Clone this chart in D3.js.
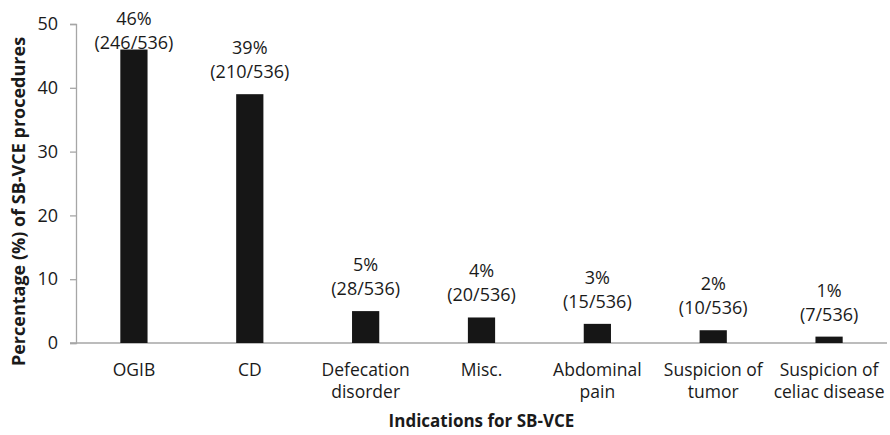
<!DOCTYPE html>
<html>
<head>
<meta charset="utf-8">
<script src="https://cdn.jsdelivr.net/npm/d3@7"></script>
<style>
  body { margin: 0; background: #fff; }
  text { font-family: "Open Sans", "Liberation Sans", sans-serif; fill: #1a1a1a; }
</style>
</head>
<body>
<div id="chart"></div>
<script>
// data
const categories = ["OGIB", "CD", "Defecation disorder", "Misc.", "Abdominal pain", "Suspicion of tumor", "Suspicion of celiac disease"];
const catLines = [["OGIB"], ["CD"], ["Defecation", "disorder"], ["Misc."], ["Abdominal", "pain"], ["Suspicion of", "tumor"], ["Suspicion of", "celiac disease"]];
const percents = [46, 39, 5, 4, 3, 2, 1];
const counts = [246, 210, 28, 20, 15, 10, 7];
const total = 536;
const yTicks = [0, 10, 20, 30, 40, 50];

const FRAME_WIDTH = 890;
const FRAME_HEIGHT = 435;
const MARGINS = {left: 76, right: 3, top: 24, bottom: 92};
const VIS_WIDTH = FRAME_WIDTH - MARGINS.left - MARGINS.right;
const VIS_HEIGHT = FRAME_HEIGHT - MARGINS.top - MARGINS.bottom;

const xScale = d3.scaleBand()
                 .domain(categories)
                 .range([0, VIS_WIDTH])
                 .paddingInner(0.765)
                 .paddingOuter(0.3825);

const yScale = d3.scaleLinear()
                 .domain([0, 50])
                 .range([VIS_HEIGHT, 0]);

const svg = d3.select("#chart")
              .append("svg")
                .attr("width", FRAME_WIDTH)
                .attr("height", FRAME_HEIGHT);

const g = svg.append("g")
             .attr("transform", "translate(" + MARGINS.left + "," + MARGINS.top + ")");

// y axis
const yAxis = g.append("g")
               .call(d3.axisLeft(yScale).tickValues(yTicks).tickSize(6).tickPadding(12));
yAxis.selectAll("path, line").attr("stroke", "#a6a6a6").attr("stroke-width", 1.3);
yAxis.selectAll("text").attr("font-size", "18px").attr("fill", "#1a1a1a")
     .style("font-family", "'Open Sans', sans-serif");

// x axis line
g.append("line")
  .attr("x1", -6).attr("x2", VIS_WIDTH)
  .attr("y1", yScale(0)).attr("y2", yScale(0))
  .attr("stroke", "#a6a6a6").attr("stroke-width", 1.3);

// bars
g.selectAll(".bar")
  .data(categories)
  .enter().append("rect")
    .attr("class", "bar")
    .attr("x", (d) => xScale(d))
    .attr("width", xScale.bandwidth())
    .attr("y", (d, i) => yScale(percents[i]))
    .attr("height", (d, i) => yScale(0) - yScale(percents[i]))
    .attr("fill", "#161616");

// value labels
const labels = g.selectAll(".vlabel")
  .data(categories)
  .enter().append("text")
    .attr("class", "vlabel")
    .attr("text-anchor", "middle")
    .attr("font-size", "18px")
    .attr("transform", (d, i) => {
      const top = yScale(percents[i]);
      const y1 = Math.max(top - 40, 1);
      return "translate(" + (xScale(d) + xScale.bandwidth() / 2) + "," + y1 + ")";
    });
labels.append("tspan").attr("x", 0).attr("y", 0).text((d, i) => percents[i] + "%");
labels.append("tspan").attr("x", 0).attr("y", 24).text((d, i) => "(" + counts[i] + "/" + total + ")");

// category labels
const cats = g.selectAll(".clabel")
  .data(categories)
  .enter().append("text")
    .attr("class", "clabel")
    .attr("text-anchor", "middle")
    .attr("font-size", "17.5px")
    .attr("transform", (d) => "translate(" + (xScale(d) + xScale.bandwidth() / 2) + "," + (VIS_HEIGHT + 33) + ")");
cats.selectAll("tspan")
  .data((d, i) => catLines[i])
  .enter().append("tspan")
    .attr("x", 0)
    .attr("y", (d, j) => j * 22)
    .text((d) => d);

// axis titles
g.append("text")
  .attr("text-anchor", "middle")
  .attr("font-size", "17px")
  .attr("font-weight", "bold")
  .attr("x", VIS_WIDTH / 2)
  .attr("y", VIS_HEIGHT + 84)
  .text("Indications for SB-VCE");

g.append("text")
  .attr("text-anchor", "middle")
  .attr("font-size", "18px")
  .attr("font-weight", "bold")
  .attr("transform", "translate(" + (-MARGINS.left + 25) + "," + (VIS_HEIGHT / 2 + 18) + ") rotate(-90)")
  .text("Percentage (%) of SB-VCE procedures");
</script>
</body>
</html>
